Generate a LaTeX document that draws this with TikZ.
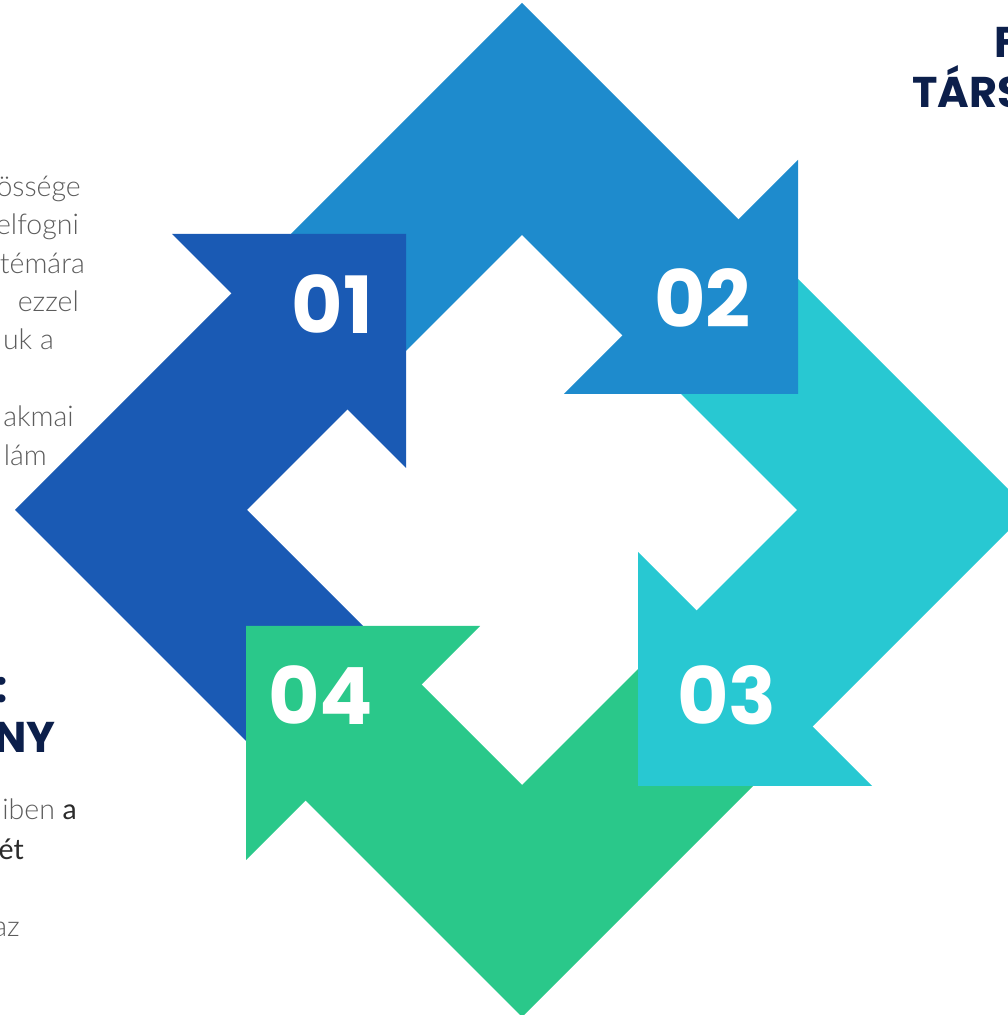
\documentclass[tikz,border=0pt]{standalone}
\usepackage{fontspec}
\setmainfont{Lato}
\newfontfamily\bodyfont{Lato Light}
\newfontfamily\poppins{Poppins}
\definecolor{c01}{HTML}{1A5AB4}
\definecolor{c02}{HTML}{1E8BCD}
\definecolor{c03}{HTML}{28C8D2}
\definecolor{c04}{HTML}{2AC88A}
\definecolor{navy}{HTML}{0C1F4B}
\definecolor{bodygray}{HTML}{5C5C5C}
\definecolor{bodydark}{HTML}{2B2B2B}

\begin{document}
\begin{tikzpicture}[x=1pt, y=1pt,
    num/.style={anchor=base, inner sep=0pt, text=white,
      font=\poppins\bfseries\fontsize{79}{79}\selectfont},
    title/.style={inner sep=0pt, text=navy,
      font=\poppins\bfseries\fontsize{43}{43}\selectfont},
    body/.style={anchor=base east, inner sep=0pt, text=bodygray,
      font=\bodyfont\fontsize{28.5}{28.5}\selectfont}]

  \useasboundingbox (0,0) rectangle (1008,1015);
  \clip (0,0) rectangle (1008,1015);

  % Bands (one side of the square each, tail under the previous head)

  \begin{scope}[shift={(522,505)}, rotate=90]
    \fill[c01] (-268.5,238.5) -- (0,507) -- (236.5,270.5) -- (120.5,154.5) -- (0,275) -- (-152.5,122.5) -- cycle;
  \end{scope}

  \begin{scope}[shift={(522,505)}]
    \fill[c02] (-268.5,238.5) -- (0,507) -- (236.5,270.5) -- (120.5,154.5) -- (0,275) -- (-152.5,122.5) -- cycle;
  \end{scope}

  \begin{scope}[shift={(522,505)}, rotate=-90]
    \fill[c03] (-268.5,238.5) -- (0,507) -- (236.5,270.5) -- (120.5,154.5) -- (0,275) -- (-152.5,122.5) -- cycle;
  \end{scope}

  \begin{scope}[shift={(522,505)}, rotate=180]
    \fill[c04] (-268.5,238.5) -- (0,507) -- (236.5,270.5) -- (120.5,154.5) -- (0,275) -- (-152.5,122.5) -- cycle;
  \end{scope}

  % Heads

  \begin{scope}[shift={(522,505)}, rotate=90]
    \fill[c01] (276,350) -- (276,116) -- (42,116) -- cycle;
  \end{scope}

  \begin{scope}[shift={(522,505)}]
    \fill[c02] (276,350) -- (276,116) -- (42,116) -- cycle;
  \end{scope}

  \begin{scope}[shift={(522,505)}, rotate=-90]
    \fill[c03] (276,350) -- (276,116) -- (42,116) -- cycle;
  \end{scope}

  \begin{scope}[shift={(522,505)}, rotate=180]
    \fill[c04] (276,350) -- (276,116) -- (42,116) -- cycle;
  \end{scope}

  % Numbers

  \node[num] (n01) at (332.5,681) {01};
  \node[num] (n02) at (702.5,687) {02};
  \node[num] (n03) at (727,290) {03};
  \node[num] (n04) at (320.7,290) {04};

  % Titles

  \node[title, anchor=base west] (t1a) at (994,957) {F};
  \node[title, anchor=base west] (t1b) at (912,907) {TÁRS};

  \node[title, anchor=base east] (t2a) at (8,312) {:};
  \node[title, anchor=base east] (t2b) at (56,262) {NY};

  % Text left, upper block

  \node[body] (p1) at (81,818.5) {össége};
  \node[body] (p2) at (79,780) {elfogni};
  \node[body] (p3) at (85,741.5) {témára};
  \node[body] (p4) at (79,703.3) {ezzel};
  \node[body] (p5) at (54,665) {uk a};
  \node[body] (p6) at (74,588) {akmai};
  \node[body] (p7) at (47,549) {lám};

  % Text left, lower block

  \node[body] (q1) at (77,195.7) {iben {\fontspec{Lato}\textcolor{bodydark}{a}}};
  \node[body, text=bodydark, font=\fontsize{28.5}{28.5}\selectfont] (q2) at (24,155.7) {ét};
  \node[body] (q3) at (20,78.3) {az};

\end{tikzpicture}
\end{document}
